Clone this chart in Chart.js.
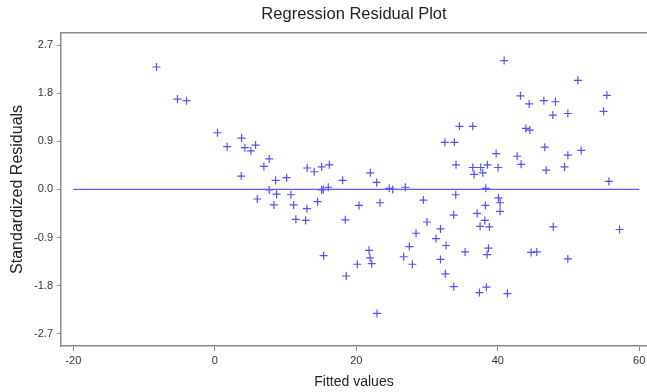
<!DOCTYPE html>
<html>
<head>
<meta charset="utf-8">
<script src="https://cdn.jsdelivr.net/npm/chart.js@4/dist/chart.umd.min.js"></script>
<style>
html, body { margin: 0; padding: 0; background: #fff; }
#wrap { width: 647px; height: 392px; }
</style>
</head>
<body>
<div id="wrap"><canvas id="residualChart"></canvas></div>
<script>
// data
const fittedValues = [
  -8.25, -5.28, -4.0, 0.38, 1.74, 3.78, 4.25, 5.1, 5.76, 3.73,
  6.0, 6.93, 7.69, 8.59, 10.15, 13.06, 14.05, 15.1, 16.18, 18.07,
  21.98, 22.88, 24.66, 25.15, 26.93, 32.52, 7.69, 8.73, 10.76, 15.1,
  15.33, 16.04, 8.35, 11.14, 13.02, 14.53, 11.46, 12.83, 20.38, 18.44,
  23.35, 15.38, 18.58, 20.14, 21.8, 21.94, 22.18, 22.93, 29.48, 30.0,
  28.45, 31.9, 31.28, 32.69, 27.5, 26.7, 27.93, 31.9, 32.59, 40.9,
  51.33, 55.43, 54.96, 43.21, 44.44, 46.52, 48.16, 47.79, 49.91, 34.58,
  36.47, 43.97, 44.54, 33.87, 46.65, 51.8, 39.77, 42.74, 49.91, 34.1,
  36.47, 37.6, 38.54, 40.05, 43.3, 36.65, 37.88, 46.84, 49.44, 55.71,
  38.3, 34.06, 40.1, 40.33, 38.26, 40.33, 33.78, 37.08, 38.17, 37.5,
  38.82, 47.85, 57.22, 35.38, 38.68, 38.49, 44.72, 45.52, 49.91, 33.78,
  37.41, 38.4, 41.37
];
const stdResiduals = [
  2.29, 1.69, 1.66, 1.06, 0.80, 0.96, 0.78, 0.72, 0.83, 0.25,
  -0.18, 0.43, 0.57, 0.17, 0.22, 0.40, 0.33, 0.42, 0.46, 0.17,
  0.31, 0.13, 0.02, 0.0, 0.04, 0.88, -0.01, -0.09, -0.10, -0.01,
  0.0, 0.04, -0.29, -0.29, -0.36, -0.23, -0.56, -0.58, -0.30, -0.57,
  -0.25, -1.24, -1.62, -1.40, -1.14, -1.28, -1.39, -2.32, -0.20, -0.61,
  -0.82, -0.74, -0.92, -1.05, -1.07, -1.26, -1.40, -1.31, -1.58, 2.41,
  2.04, 1.76, 1.46, 1.75, 1.60, 1.66, 1.64, 1.39, 1.42, 1.18,
  1.18, 1.14, 1.11, 0.88, 0.79, 0.73, 0.67, 0.62, 0.64, 0.46,
  0.41, 0.41, 0.46, 0.41, 0.47, 0.28, 0.31, 0.36, 0.42, 0.15,
  0.02, -0.10, -0.16, -0.25, -0.30, -0.41, -0.48, -0.45, -0.58, -0.69,
  -0.70, -0.70, -0.75, -1.17, -1.10, -1.22, -1.18, -1.17, -1.30, -1.82,
  -1.93, -1.83, -1.95
];
const xTicks = [-20, 0, 20, 40, 60];
const yTicks = [-2.7, -1.8, -0.9, 0, 0.9, 1.8, 2.7];
const zeroLineX = [-20, 60];

const axisGray = '#8a8a8a';
const fontFamily = 'Liberation Sans, Arial, sans-serif';
const tickFont = { family: fontFamily, size: 11 };

const points = fittedValues.map((x, i) => ({ x: x, y: stdResiduals[i] }));
const zeroLine = zeroLineX.map(x => ({ x: x, y: 0 }));

const ctx = document.getElementById('residualChart').getContext('2d');
new Chart(ctx, {
  type: 'scatter',
  data: {
    datasets: [
      {
        type: 'line',
        data: zeroLine,
        borderColor: '#5c5cff',
        borderWidth: 1.2,
        pointRadius: 0,
        fill: false
      },
      {
        data: points,
        pointStyle: 'cross',
        pointRadius: 4,
        pointHoverRadius: 4,
        borderWidth: 1.2,
        borderColor: 'rgba(50, 50, 255, 0.85)',
        backgroundColor: 'rgba(50, 50, 255, 0.85)'
      }
    ]
  },
  options: {
    responsive: true,
    maintainAspectRatio: false,
    animation: false,
    // plot box runs to the right edge of the window, like the original
    layout: { padding: 0, autoPadding: false },
    plugins: {
      legend: { display: false },
      tooltip: { enabled: false },
      title: {
        display: true,
        fullSize: false,
        text: 'Regression Residual Plot',
        color: '#222',
        font: { family: fontFamily, size: 16.5, weight: 'normal' },
        padding: { top: 5, bottom: 8 }
      }
    },
    scales: {
      x: {
        type: 'linear',
        min: -21.75,
        max: 61.1,
        afterBuildTicks: s => { s.ticks = xTicks.map(v => ({ value: v })); },
        afterFit: s => { s.height = 46; s.paddingLeft = 0; s.paddingRight = 0; },
        ticks: { color: '#333', font: tickFont, padding: 3, maxRotation: 0 },
        grid: { drawOnChartArea: false, drawTicks: true, tickLength: 5, color: axisGray },
        border: { color: axisGray, width: 1.5 },
        title: {
          display: true,
          text: 'Fitted values',
          color: '#222',
          font: { family: fontFamily, size: 14 },
          padding: { top: 0, bottom: 1 }
        }
      },
      xTop: {
        type: 'linear',
        position: 'top',
        min: -21.75,
        max: 61.1,
        afterFit: s => { s.height = 0; s.paddingLeft = 0; s.paddingRight = 0; },
        ticks: { display: false },
        grid: { display: false },
        border: { color: axisGray, width: 1.5 }
      },
      y: {
        type: 'linear',
        min: -2.93,
        max: 2.93,
        afterBuildTicks: s => { s.ticks = yTicks.map(v => ({ value: v })); },
        afterFit: s => { s.width = 61; s.paddingTop = 0; s.paddingBottom = 0; },
        ticks: {
          color: '#333',
          font: tickFont,
          padding: 4,
          callback: v => v.toFixed(1)
        },
        grid: { drawOnChartArea: false, drawTicks: true, tickLength: 4, color: axisGray },
        border: { color: axisGray, width: 1.5 },
        title: {
          display: true,
          text: 'Standardized Residuals',
          color: '#222',
          font: { family: fontFamily, size: 16 },
          padding: { top: 8, bottom: 0 }
        }
      }
    }
  }
});
</script>
</body>
</html>
